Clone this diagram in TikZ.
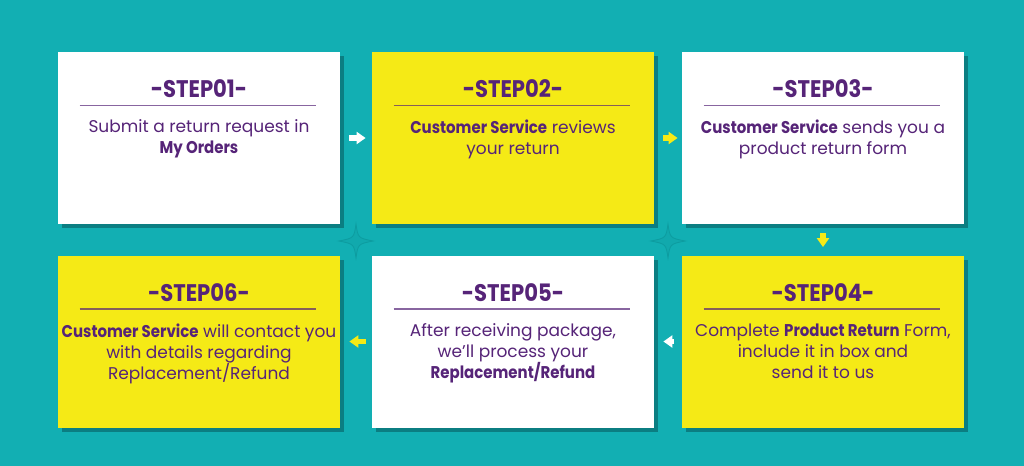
\documentclass[tikz,border=0pt]{standalone}
\usepackage{fontspec}
\setmainfont{Poppins}[BoldFeatures={FakeStretch=0.88}]
\usepackage{tikz}
\usepackage{xcolor}
\usetikzlibrary{arrows.meta,positioning,shadows}
\definecolor{bgteal}{RGB}{18,175,179}
\definecolor{shadowteal}{RGB}{10,118,122}
\definecolor{startealfill}{RGB}{17,169,173}
\definecolor{startealline}{RGB}{13,156,160}
\definecolor{cardyellow}{RGB}{245,234,22}
\definecolor{textpurple}{RGB}{86,36,120}
\tikzset{
  stepcard/.style={draw=none, minimum width=141pt, minimum height=86pt, inner sep=0pt,
    drop shadow={shadow xshift=2pt, shadow yshift=-2pt, fill=shadowteal, opacity=0.85}},
  steptitle/.style={text=textpurple, font=\bfseries\fontsize{12}{14}\selectfont, inner sep=0pt},
  stepbody/.style={text=textpurple, align=center, inner sep=0pt,
    font=\fontsize{8.5}{10.5}\selectfont},
  steprule/.style={draw=textpurple, opacity=0.7, line width=0.7pt},
  flowarrow/.style={line width=2.7pt, -{Triangle[width=6pt,length=4.5pt]}},
  deco/.style={fill=startealfill, draw=startealline, line width=0.4pt}
}
\begin{document}
\begin{tikzpicture}[x=0.5pt, y=-0.5pt]
  \useasboundingbox (0,0) rectangle (1024,466);
  \fill[bgteal] (0,0) rectangle (1024,466);
  % faint stars between the rows
  \foreach \sx in {356,668}
    \draw[deco, shift={(\sx,241)}] (0,-17) .. controls (2,-3) .. (17,0) .. controls (2,3) .. (0,17)
      .. controls (-2,3) .. (-17,0) .. controls (-2,-3) .. cycle;
  % top row
  \node[stepcard, fill=white] (s1) at (199,138) {};
  \node[stepcard, fill=cardyellow] (s2) at (513,138) {};
  \node[stepcard, fill=white] (s3) at (823,138) {};
  % bottom row
  \node[stepcard, fill=cardyellow] (s4) at (823,341.5) {};
  \node[stepcard, fill=white] (s5) at (513,341.5) {};
  \node[stepcard, fill=cardyellow] (s6) at (199,341.5) {};
  % titles, rules and texts
  \node[steptitle, below=14pt of s1.north] (t1) {-STEP01-};
  \draw[steprule] ([xshift=11pt, yshift=-27pt]s1.north west) -- ([xshift=-12pt, yshift=-27pt]s1.north east);
  \node[stepbody, below=34pt of s1.north] (b1) {Submit a return request in\\ \textbf{My Orders}};
  \node[steptitle, below=14pt of s2.north] (t2) {-STEP02-};
  \draw[steprule] ([xshift=11pt, yshift=-27pt]s2.north west) -- ([xshift=-12pt, yshift=-27pt]s2.north east);
  \node[stepbody, below=34pt of s2.north] (b2) {\textbf{Customer Service} reviews\\ your return};
  \node[steptitle, below=14pt of s3.north] (t3) {-STEP03-};
  \draw[steprule] ([xshift=11pt, yshift=-27pt]s3.north west) -- ([xshift=-12pt, yshift=-27pt]s3.north east);
  \node[stepbody, below=34pt of s3.north] (b3) {\textbf{Customer Service} sends you a\\ product return form};
  \node[steptitle, below=14pt of s4.north] (t4) {-STEP04-};
  \draw[steprule] ([xshift=11pt, yshift=-27pt]s4.north west) -- ([xshift=-12pt, yshift=-27pt]s4.north east);
  \node[stepbody, below=34pt of s4.north] (b4) {Complete \textbf{Product Return} Form,\\ include it in box and\\ send it to us};
  \node[steptitle, below=14pt of s5.north] (t5) {-STEP05-};
  \draw[steprule] ([xshift=11pt, yshift=-27pt]s5.north west) -- ([xshift=-12pt, yshift=-27pt]s5.north east);
  \node[stepbody, below=34pt of s5.north] (b5) {After receiving package,\\ we'll process your\\ \textbf{Replacement/Refund}};
  \node[steptitle, below=14pt of s6.north] (t6) {-STEP06-};
  \draw[steprule] ([xshift=11pt, yshift=-27pt]s6.north west) -- ([xshift=-12pt, yshift=-27pt]s6.north east);
  \node[stepbody, below=34pt of s6.north] (b6) {\textbf{Customer Service} will contact you\\ with details regarding\\ Replacement/Refund};
  % arrows
  \draw[flowarrow, white, shorten <=4.5pt, shorten >=3pt] (s1) -- (s2);
  \draw[flowarrow, cardyellow, shorten <=4.5pt, shorten >=2pt] (s2) -- (s3);
  \draw[flowarrow, cardyellow, shorten <=4.5pt, shorten >=4pt] (s3) -- (s4);
  \draw[flowarrow, white, shorten <=4pt, shorten >=4.5pt] (s4) -- (s5);
  \draw[flowarrow, cardyellow, shorten <=3pt, shorten >=4.5pt] (s5) -- (s6);
\end{tikzpicture}
\end{document}
